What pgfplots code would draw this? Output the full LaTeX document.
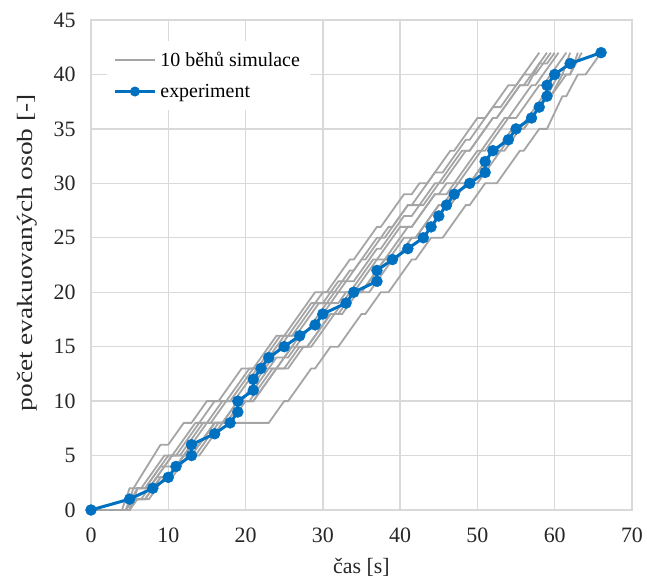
\documentclass[border=0pt]{standalone}
\usepackage{fontspec}
\setmainfont{Liberation Serif}
\usepackage{graphicx}
\usepackage{pgfplots}
\pgfplotsset{compat=1.18}

\definecolor{simgray}{HTML}{A5A5A5}
\definecolor{expblue}{HTML}{0070C0}
\definecolor{gridgray}{HTML}{D9D9D9}

\begin{document}
\begin{tikzpicture}
\useasboundingbox (-91bp,-70bp) rectangle (556bp,510bp);
\begin{axis}[
  scale only axis, width=541bp, height=490bp,
  xmin=0, xmax=70, ymin=0, ymax=45,
  xtick distance=10, ytick distance=5,
  grid=major,
  major grid style={gridgray, line width=1.3bp},
  axis line style={gridgray, line width=1.3bp},
  major tick length=0pt,
  /pgf/number format/assume math mode=true,
  tick label style={font=\fontsize{22}{26}\selectfont, text=black!85},
  yticklabel style={xshift=-12bp},
  xticklabel style={yshift=-14bp},
  xlabel={čas [s]},
  ylabel={\scalebox{1.25}[1]{počet evakuovaných osob [-]}},
  label style={font=\fontsize{22}{26}\selectfont, text=black!85},
  xlabel style={at={(axis description cs:0.5,0)}, anchor=center, yshift=-57bp},
  ylabel style={at={(axis description cs:0,0.525)}, anchor=center, yshift=64bp},
  legend cell align=left,
  legend style={draw=none, fill=white, at={(0.03,0.957)}, anchor=north west,
    font=\fontsize{20}{22}\selectfont, row sep=12bp, inner xsep=6bp, inner ysep=9bp,
    nodes={inner xsep=4bp}},
]
% ten simulation runs
\addplot[simgray, line width=1.8bp,
  legend image code/.code={\draw[simgray, line width=1.8bp] (0bp,0bp) -- (40bp,0bp);}]
  coordinates {(0,0)(4.5,0)(5.5,2)(6.5,2)(9.5,5)(10.5,5)(13.5,8)(14,8)(16,10)(17.5,10)(20.5,13)(21.5,13)(24.5,16)(25,16)(29,20)(30.5,20)(33.5,23)(34,23)(37,26)(37.5,26)(40.5,29)(41.5,29)(42.5,30)(43.5,30)(46.5,33)(47,33)(50,36)(51,36)(54,39)(55,39)(57,41)(58,42)};
\addlegendentry{10 běhů simulace}
\addplot[simgray, line width=1.8bp, forget plot]
  coordinates {(0,0)(4,0)(5,2)(5.5,2)(9,6)(10,6)(12,8)(13,8)(15,10)(16.5,10)(19.5,13)(21,13)(24,16)(25.5,16)(28.5,19)(29,19)(30,20)(32,20)(35,23)(35.5,23)(38.5,26)(39,26)(41,28)(43,28)(45,30)(45.5,30)(48.5,33)(49,33)(52,36)(52.5,36)(55.5,39)(56,39)(59,42)};
\addplot[simgray, line width=1.8bp, forget plot]
  coordinates {(0,0)(5,0)(6,2)(7.5,2)(10.5,5)(11,5)(14,8)(15.5,8)(17.5,10)(18,10)(21,13)(22.5,13)(25.5,16)(26,16)(29,19)(30.5,19)(33.5,22)(34,22)(37,25)(38,25)(41,28)(41.5,28)(44.5,31)(45.5,31)(48.5,34)(49,34)(52,37)(53,37)(56,40)(57.5,40)(59.5,42)};
\addplot[simgray, line width=1.8bp, forget plot]
  coordinates {(0,0)(4.5,0)(6,2)(7,2)(10,5)(11.5,5)(14.5,8)(15,8)(17,10)(18.5,10)(21.5,13)(22,13)(25,16)(26.5,16)(29.5,19)(30,19)(32,21)(34,21)(37,24)(37.5,24)(40.5,27)(41.5,27)(44.5,30)(45,30)(48,33)(49,33)(52,36)(52.5,36)(55.5,39)(56.5,39)(58,41)(59,41)(60,42)};
\addplot[simgray, line width=1.8bp, forget plot]
  coordinates {(0,0)(4.5,0)(5.5,1)(7,1)(9,3)(10,3)(13,6)(14,6)(16,8)(17.5,8)(20.5,11)(21,11)(24,14)(25.5,14)(28.5,17)(29,17)(32,20)(33.5,20)(36.5,23)(37,23)(40,26)(41.5,26)(44.5,29)(45,29)(46,30)(47,30)(50,33)(50.5,33)(53.5,36)(54,36)(57,39)(57.5,39)(60.5,42)};
\addplot[simgray, line width=1.8bp, forget plot]
  coordinates {(0,0)(5,0)(6,2)(7.5,2)(10.5,5)(12,5)(15,8)(17,8)(19,10)(19.5,10)(22.5,13)(24,13)(27,16)(27.5,16)(30.5,19)(32,19)(33,20)(34,20)(37,23)(38,23)(41,26)(41.5,26)(44.5,29)(46,29)(47,30)(47.5,30)(50.5,33)(51,33)(54,36)(55,36)(58,39)(58.5,39)(61.5,42)};
\addplot[simgray, line width=1.8bp, forget plot]
  coordinates {(0,0)(4.5,0)(5.5,1)(6.5,1)(8.5,3)(10,3)(12,5)(13,5)(16,8)(18,8)(20,10)(21,10)(24,13)(25.5,13)(27.5,15)(28,15)(31,18)(32.5,18)(34.5,20)(35,20)(38,23)(39.5,23)(41.5,25)(42,25)(45,28)(46.5,28)(48.5,30)(49,30)(52,33)(53,33)(55,35)(55.5,35)(58.5,38)(59,38)(60.5,40)(61,40)(62,42)};
\addplot[simgray, line width=1.8bp, forget plot]
  coordinates {(0,0)(5,0)(6,2)(7,2)(9,4)(11,4)(13,6)(14,6)(16,8)(17.5,8)(19.5,10)(21,10)(24,13)(25,13)(27,15)(28.5,15)(31.5,18)(32,18)(34,20)(36,20)(39,23)(39.5,23)(41.5,25)(43,25)(46,28)(46.5,28)(48.5,30)(50,30)(53,33)(53.5,33)(55.5,35)(56,35)(59,38)(59.5,38)(61.5,40)(62,40)(63,42)};
\addplot[simgray, line width=1.8bp, forget plot]
  coordinates {(0,0)(5,0)(6,1)(7.5,1)(9.5,3)(10,3)(12,5)(13.5,5)(16.5,8)(17,8)(19,10)(20.5,10)(23.5,13)(24,13)(26,15)(28,15)(31,18)(31.5,18)(33.5,20)(35,20)(38,23)(38.5,23)(40.5,25)(42,25)(45,28)(45.5,28)(47.5,30)(49,30)(52,33)(52.5,33)(54.5,35)(56,35)(59,38)(59.5,38)(61,40)(62,40)(63.5,42)};
\addplot[simgray, line width=1.8bp, forget plot]
  coordinates {(0,0)(4.5,0)(5.5,1)(7,1)(9,3)(10.5,3)(12.5,5)(14,5)(17,8)(23,8)(25,10)(25.5,10)(28.5,13)(29,13)(31,15)(32,15)(35,18)(35.5,18)(37.5,20)(38.5,20)(41.5,23)(42,23)(44,25)(45.5,25)(48.5,28)(49,28)(51,30)(52.5,30)(55.5,33)(56,33)(58,35)(59,35)(61,38)(61.5,38)(63,40)(64,40)(65,41)(66,42)};
% measured evacuation
\addplot[expblue, line width=3bp, mark=*, mark size=5.5bp,
  mark options={solid, fill=expblue, draw=expblue, line width=0.4bp},
  legend image code/.code={\draw[expblue, line width=3bp] (0bp,0bp) -- (40bp,0bp); \fill[expblue] (20bp,0bp) circle (3.4bp);}]
  coordinates {(0,0)(5,1)(8,2)(10,3)(11,4)(13,5)(13,6)(16,7)(18,8)(19,9)(19,10)(21,11)(21,12)(22,13)(23,14)(25,15)(27,16)(29,17)(30,18)(33,19)(34,20)(37,21)(37,22)(39,23)(41,24)(43,25)(44,26)(45,27)(46,28)(47,29)(49,30)(51,31)(51,32)(52,33)(54,34)(55,35)(57,36)(58,37)(59,38)(59,39)(60,40)(62,41)(66,42)};
\addlegendentry{experiment}
\end{axis}
\end{tikzpicture}
\end{document}
